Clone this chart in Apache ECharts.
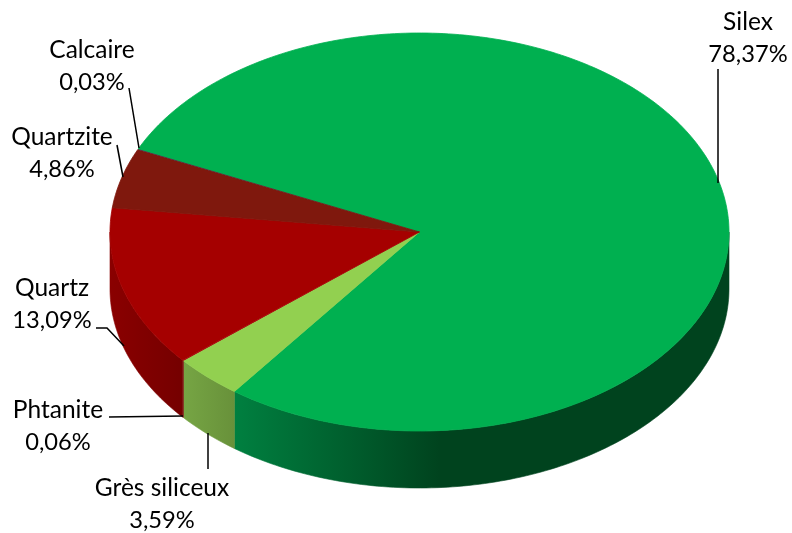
<!DOCTYPE html>
<html>
<head>
<meta charset="utf-8">
<style>html,body{margin:0;padding:0;background:#fff}#c{width:792px;height:533px}</style>
<script src="https://cdn.jsdelivr.net/npm/echarts@6/dist/echarts.min.js"></script>
</head>
<body>
<div id="c"></div>
<script>
var categories = ['Silex', 'Grès siliceux', 'Phtanite', 'Quartz', 'Quartzite', 'Calcaire'];
var values = [78.37, 3.59, 0.06, 13.09, 4.86, 0.03];
var topColors = ['#00b050', '#92d050', '#a50000', '#a50000', '#7f180d', '#1f3f8f'];
var sideStops = [
  ['#008040', '#00431e'],
  ['#76a544', '#68913a'],
  ['#7a0000', '#7a0000'],
  ['#8a0000', '#750000'],
  ['#5a1008', '#5a1008'],
  ['#14285c', '#14285c']
];

/* pie geometry: tilted disc */
var CX = 419.5, CY = 232, RX = 309.5, RY = 199, DEPTH = 57, START = 204.6;
/* label placement: centre of the two text lines + leader polyline */
var labelCentres = [[748, 22], [162, 488], [58, 410], [52, 288], [62, 137], [92, 50]];
var leaders = [
  [[718, 69], [718, 183]],
  [[208, 433], [208, 469]],
  [[109, 417], [183, 416]],
  [[96, 328], [107, 328], [124, 346]],
  [[117, 145], [123, 177]],
  [[129, 88], [139, 148]]
];
var LINE_GAP = 32.5;
var SEAM_MIN_VALUE = 1;

var total = values.reduce(function (a, b) { return a + b; }, 0);
var spans = [];
(function () {
  var a = START;
  values.forEach(function (v) {
    var s = v / total * 360;
    spans.push([a, a + s]);
    a += s;
  });
})();

function pt(deg, dy) {
  var r = deg * Math.PI / 180;
  return [CX + RX * Math.cos(r), CY + RY * Math.sin(r) + (dy || 0)];
}
function arc(a0, a1, dy) {
  var out = [], n = Math.max(1, Math.ceil(Math.abs(a1 - a0)));
  for (var i = 0; i <= n; i++) out.push(pt(a0 + (a1 - a0) * i / n, dy));
  return out;
}
/* the part of [a0,a1] facing the viewer (screen angles 0..180 modulo 360) */
function frontRanges(a0, a1) {
  var res = [];
  for (var k = 0; k <= 1; k++) {
    var lo = Math.max(a0, 360 * k), hi = Math.min(a1, 360 * k + 180);
    if (hi > lo) res.push([lo, hi]);
  }
  return res;
}

var sideSeries = {
  type: 'custom', coordinateSystem: 'none', silent: true, z: 1,
  data: categories.map(function (c, i) { return [i]; }),
  renderItem: function (params, api) {
    var i = api.value(0), kids = [];
    frontRanges(spans[i][0], spans[i][1]).forEach(function (rg) {
      var pts = arc(rg[0], rg[1], 0).concat(arc(rg[1], rg[0], DEPTH));
      var xs = pts.map(function (p) { return p[0]; });
      var x0 = Math.min.apply(null, xs), x1 = Math.max.apply(null, xs);
      /* green side reaches its darkest value about the middle of the disc */
      if (i === 0) x1 = Math.min(x1, CX + 20);
      var grad = { type: 'linear', x: x0, y: 0, x2: x1, y2: 0, global: true,
        colorStops: [{ offset: 0, color: sideStops[i][0] }, { offset: 1, color: sideStops[i][1] }] };
      var big = values[i] >= SEAM_MIN_VALUE;
      kids.push({
        type: 'polygon',
        shape: { points: pts },
        style: { fill: grad, stroke: big ? grad : null, lineWidth: big ? 0.6 : 0 }
      });
    });
    return { type: 'group', children: kids };
  }
};

var topSeries = {
  type: 'custom', coordinateSystem: 'none', silent: true, z: 2,
  data: categories.map(function (c, i) { return [i]; }),
  renderItem: function (params, api) {
    var i = api.value(0);
    var pts = [[CX, CY]].concat(arc(spans[i][0], spans[i][1], 0));
    var big = values[i] >= SEAM_MIN_VALUE;
    return { type: 'polygon', shape: { points: pts },
      style: { fill: topColors[i], stroke: big ? topColors[i] : null, lineWidth: big ? 0.8 : 0 } };
  }
};

var labelSeries = {
  type: 'custom', coordinateSystem: 'none', silent: true, z: 3,
  data: categories.map(function (c, i) { return [i]; }),
  renderItem: function (params, api) {
    var i = api.value(0), c = labelCentres[i];
    var base = { fontFamily: 'Lato, "Open Sans", sans-serif', fill: '#000',
      textAlign: 'center', textVerticalAlign: 'middle' };
    return {
      type: 'group',
      children: [
        { type: 'polyline', shape: { points: leaders[i] },
          style: { stroke: '#000', lineWidth: 1.5, fill: null } },
        { type: 'text', style: Object.assign({ x: c[0], y: c[1], text: categories[i], fontSize: 24.5 }, base) },
        { type: 'text', style: Object.assign({ x: c[0], y: c[1] + LINE_GAP, fontSize: 23.7,
          text: values[i].toFixed(2).replace('.', ',') + '%' }, base) }
      ]
    };
  }
};

var chart = echarts.init(document.getElementById('c'), null, { renderer: 'canvas' });
chart.setOption({
  animation: false,
  backgroundColor: '#fff',
  series: [sideSeries, topSeries, labelSeries]
});
</script>
</body>
</html>
